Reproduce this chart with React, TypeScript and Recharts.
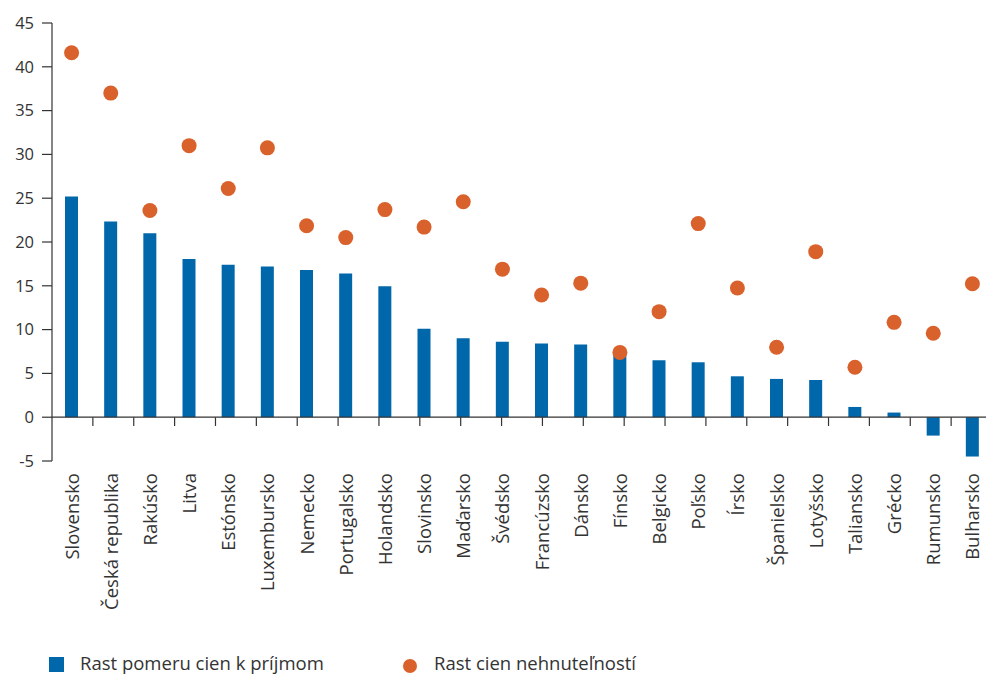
import React from 'react';
import { ComposedChart, Bar, Line, XAxis, YAxis, ReferenceLine, Legend } from 'recharts';

const categories = [
  'Slovensko', 'Česká republika', 'Rakúsko', 'Litva', 'Estónsko', 'Luxembursko',
  'Nemecko', 'Portugalsko', 'Holandsko', 'Slovinsko', 'Maďarsko', 'Švédsko',
  'Francúzsko', 'Dánsko', 'Fínsko', 'Belgicko', 'Poľsko', 'Írsko', 'Španielsko',
  'Lotyšsko', 'Taliansko', 'Grécko', 'Rumunsko', 'Bulharsko',
];

const priceToIncomeGrowth = [
  25.2, 22.35, 21.0, 18.05, 17.4, 17.2, 16.8, 16.4, 14.95, 10.1, 9.0, 8.6,
  8.4, 8.3, 7.3, 6.5, 6.27, 4.67, 4.37, 4.25, 1.17, 0.53, -2.1, -4.49,
];

const housePriceGrowth = [
  41.6, 37.0, 23.6, 31.0, 26.1, 30.75, 21.85, 20.5, 23.7, 21.7, 24.6, 16.9,
  13.95, 15.3, 7.4, 12.05, 22.1, 14.75, 7.98, 18.9, 5.7, 10.83, 9.58, 15.24,
];

const yTicks = [-5, 0, 5, 10, 15, 20, 25, 30, 35, 40, 45];

const seriesNames = ['Rast pomeru cien k príjmom', 'Rast cien nehnuteľností'];

const BLUE = '#0067ab';
const ORANGE = '#d9612b';
const INK = '#333333';
const FONT = '"Open Sans", "Noto Sans", sans-serif';

const data = categories.map((name, i) => ({
  name,
  ratio: priceToIncomeGrowth[i],
  price: housePriceGrowth[i],
}));

// category boundaries (between adjacent bands), in band-index units
const boundaries = categories.slice(1).map((_, i) => i + 1);

const CategoryTick = (props: any) => {
  const { x, y, payload } = props;
  return (
    <text
      x={x}
      y={y}
      transform={`rotate(-90, ${x}, ${y})`}
      textAnchor="end"
      dy="0.38em"
      fill={INK}
      fontSize={18.5}
      fontFamily={FONT}
    >
      {payload.value}
    </text>
  );
};

const LegendContent = () => (
  <div style={{ position: 'relative', height: 36, fontFamily: FONT, color: INK }}>
    <div style={{ position: 'absolute', left: 49, top: 18, width: 15, height: 15, background: BLUE }} />
    <span style={{ position: 'absolute', left: 80, top: 11, lineHeight: '26px', fontSize: 18.5, whiteSpace: 'nowrap' }}>
      {seriesNames[0]}
    </span>
    <div style={{ position: 'absolute', left: 403, top: 20, width: 14, height: 14, borderRadius: 7, background: ORANGE }} />
    <span style={{ position: 'absolute', left: 434, top: 11, lineHeight: '26px', fontSize: 18.5, whiteSpace: 'nowrap' }}>
      {seriesNames[1]}
    </span>
  </div>
);

export default function App() {
  return (
    <div style={{ position: 'absolute', left: 0, top: 0, width: 986, height: 675, overflow: 'hidden', background: '#fff' }}>
      <ComposedChart
        width={1000}
        height={675}
        data={data}
        margin={{ top: 23, right: 8, left: 0, bottom: 0 }}
      >
        <XAxis
          xAxisId="cat"
          dataKey="name"
          type="category"
          interval={0}
          axisLine={false}
          tickLine={false}
          tickSize={6}
          tickMargin={6}
          height={178}
          tick={<CategoryTick />}
        />
        <XAxis xAxisId="grid" type="number" domain={[0, 24]} hide />
        <YAxis
          width={52}
          domain={[-5, 45]}
          ticks={yTicks}
          interval={0}
          tickSize={10}
          tickMargin={8}
          axisLine={{ stroke: INK, strokeWidth: 1.2 }}
          tickLine={{ stroke: INK, strokeWidth: 1.2 }}
          tick={{ fill: INK, fontSize: 16.5, fontFamily: FONT }}
          allowDataOverflow
        />
        <ReferenceLine xAxisId="grid" y={0} stroke={INK} strokeWidth={1.2} />
        {boundaries.map((b) => (
          <ReferenceLine
            key={b}
            xAxisId="grid"
            segment={[{ x: b, y: 0 }, { x: b, y: -1 }]}
            stroke={INK}
            strokeWidth={1.2}
          />
        ))}
        <Bar
          xAxisId="cat"
          dataKey="ratio"
          fill={BLUE}
          barSize={13}
          isAnimationActive={false}
        />
        <Line
          xAxisId="cat"
          dataKey="price"
          stroke="none"
          dot={{ r: 7.5, fill: ORANGE, stroke: 'none' }}
          activeDot={false}
          isAnimationActive={false}
        />
        <Legend
          verticalAlign="bottom"
          wrapperStyle={{ height: 36, left: 0, width: 986 }}
          content={<LegendContent />}
        />
      </ComposedChart>
    </div>
  );
}
